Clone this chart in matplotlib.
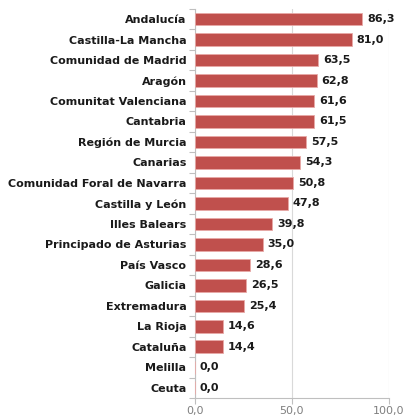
import matplotlib
matplotlib.use("Agg")
import matplotlib.pyplot as plt
import numpy as np

categories = ["Andalucía", "Castilla-La Mancha", "Comunidad de Madrid", "Aragón",
              "Comunitat Valenciana", "Cantabria", "Región de Murcia", "Canarias",
              "Comunidad Foral de Navarra", "Castilla y León", "Illes Balears",
              "Principado de Asturias", "País Vasco", "Galicia", "Extremadura",
              "La Rioja", "Cataluña", "Melilla", "Ceuta"]
values = [86.3, 81.0, 63.5, 62.8, 61.6, 61.5, 57.5, 54.3, 50.8, 47.8, 39.8,
          35.0, 28.6, 26.5, 25.4, 14.6, 14.4, 0.0, 0.0]
xticks = [0, 50, 100]

plt.rcParams['font.family'] = ['DejaVu Sans']

fig = plt.figure(figsize=(4.05, 4.19), dpi=100)
ax = fig.add_axes([0.481, 0.050, 0.479, 0.929])

y = np.arange(len(categories))
ax.barh(y, values, height=0.62, color="#C0504D", edgecolor="#E8A9A7", linewidth=0.6, zorder=3)
for yi, v in zip(y, values):
    ax.text(v + 2.5, yi, f"{v:.1f}".replace(".", ","), va="center", ha="left",
            fontsize=8, fontweight="bold", color="#1a1a1a", zorder=4)

ax.set_ylim(len(categories) - 0.5, -0.5)
ax.set_xlim(0, 100)
ax.set_yticks(y)
ax.set_yticklabels(categories, fontsize=8, fontweight="bold", color="#1a1a1a")
ax.set_xticks(xticks)
ax.set_xticklabels([f"{t:.1f}".replace(".", ",") for t in xticks], fontsize=8, color="#7f7f7f")
ax.set_yticks(np.arange(len(categories) + 1) - 0.5, minor=True)
ax.tick_params(axis="y", which="major", length=0, pad=6)
ax.tick_params(axis="y", which="minor", length=4, color="#BFBFBF", width=0.8)
ax.tick_params(axis="x", length=4, color="#BFBFBF", width=0.8, pad=1.5)
ax.grid(axis="x", color="#D9D9D9", linewidth=0.8, zorder=0)
for s in ["top", "right"]:
    ax.spines[s].set_visible(False)
for s in ["left", "bottom"]:
    ax.spines[s].set_color("#BFBFBF")
    ax.spines[s].set_linewidth(0.8)

fig.savefig("out.png", dpi=100)
